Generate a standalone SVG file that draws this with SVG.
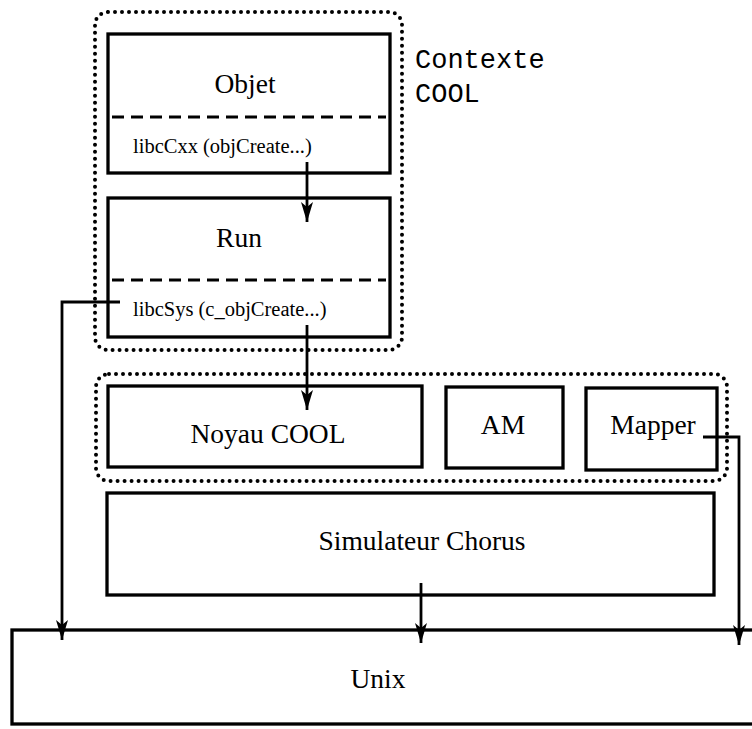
<svg xmlns="http://www.w3.org/2000/svg" width="752" height="729" viewBox="0 0 752 729">
<style>
.box{fill:#fff;stroke:#000;stroke-width:3.3}
.grp{fill:none;stroke:#000;stroke-width:4;stroke-dasharray:0 7;stroke-linecap:round}
.sep{stroke:#000;stroke-width:3;stroke-dasharray:12 7}
.lbl{font-family:"Liberation Serif","Times New Roman",serif;font-size:27.5px;fill:#000;text-anchor:middle}
.small{font-family:"Liberation Serif","Times New Roman",serif;font-size:20.5px;fill:#000}
.mono{font-family:"Liberation Mono","Courier New",monospace;font-size:27px;fill:#000}
.conn{fill:none;stroke:#000;stroke-width:2.8}
</style>
<defs>
<marker id="arr" viewBox="-21 -7 22 14" refX="0" refY="0" markerWidth="22" markerHeight="14" markerUnits="userSpaceOnUse" orient="auto">
<path d="M-20,-6 L0,0 L-20,6 L-15,0 z" fill="#000"/>
</marker>
</defs>
<rect width="752" height="729" fill="#fff"/>
<g id="contexte-cool">
<rect class="grp" x="95" y="12" width="307" height="338" rx="13"/>
<text class="mono" x="415" y="68">Contexte</text>
<text class="mono" x="415" y="102">COOL</text>
</g>
<g id="objet">
<rect class="box" x="108" y="34" width="282" height="139"/>
<line class="sep" x1="112" y1="117" x2="386" y2="117"/>
<text class="lbl" x="245" y="93">Objet</text>
<text class="small" x="133" y="153">libcCxx (objCreate...)</text>
</g>
<g id="run">
<rect class="box" x="108" y="198" width="282" height="139"/>
<line class="sep" x1="112" y1="280" x2="386" y2="280"/>
<text class="lbl" x="239" y="247">Run</text>
<text class="small" x="133" y="316">libcSys (c_objCreate...)</text>
</g>
<g id="noyau-group">
<rect class="grp" x="96" y="374" width="631" height="107" rx="13"/>
</g>
<g id="noyau-cool">
<rect class="box" x="108" y="386" width="314" height="81"/>
<text class="lbl" x="268" y="443">Noyau COOL</text>
</g>
<g id="am">
<rect class="box" x="446" y="387" width="117" height="81"/>
<text class="lbl" x="503" y="434">AM</text>
</g>
<g id="mapper">
<rect class="box" x="586" y="388" width="131" height="82"/>
<text class="lbl" x="653" y="434">Mapper</text>
</g>
<g id="simulateur-chorus">
<rect class="box" x="107" y="493" width="607" height="102"/>
<text class="lbl" x="422" y="550">Simulateur Chorus</text>
</g>
<g id="unix">
<rect class="box" x="12" y="630" width="760" height="94"/>
<text class="lbl" x="378" y="688">Unix</text>
</g>
<g id="connectors">
<line class="conn" x1="307" y1="162" x2="307" y2="222" marker-end="url(#arr)"/>
<line class="conn" x1="307" y1="325" x2="307" y2="410" marker-end="url(#arr)"/>
<polyline class="conn" points="120,302 62,302 62,640" marker-end="url(#arr)"/>
<line class="conn" x1="421" y1="583" x2="421" y2="643" marker-end="url(#arr)"/>
<polyline class="conn" points="703,437 739,437 739,645" marker-end="url(#arr)"/>
</g>
</svg>
